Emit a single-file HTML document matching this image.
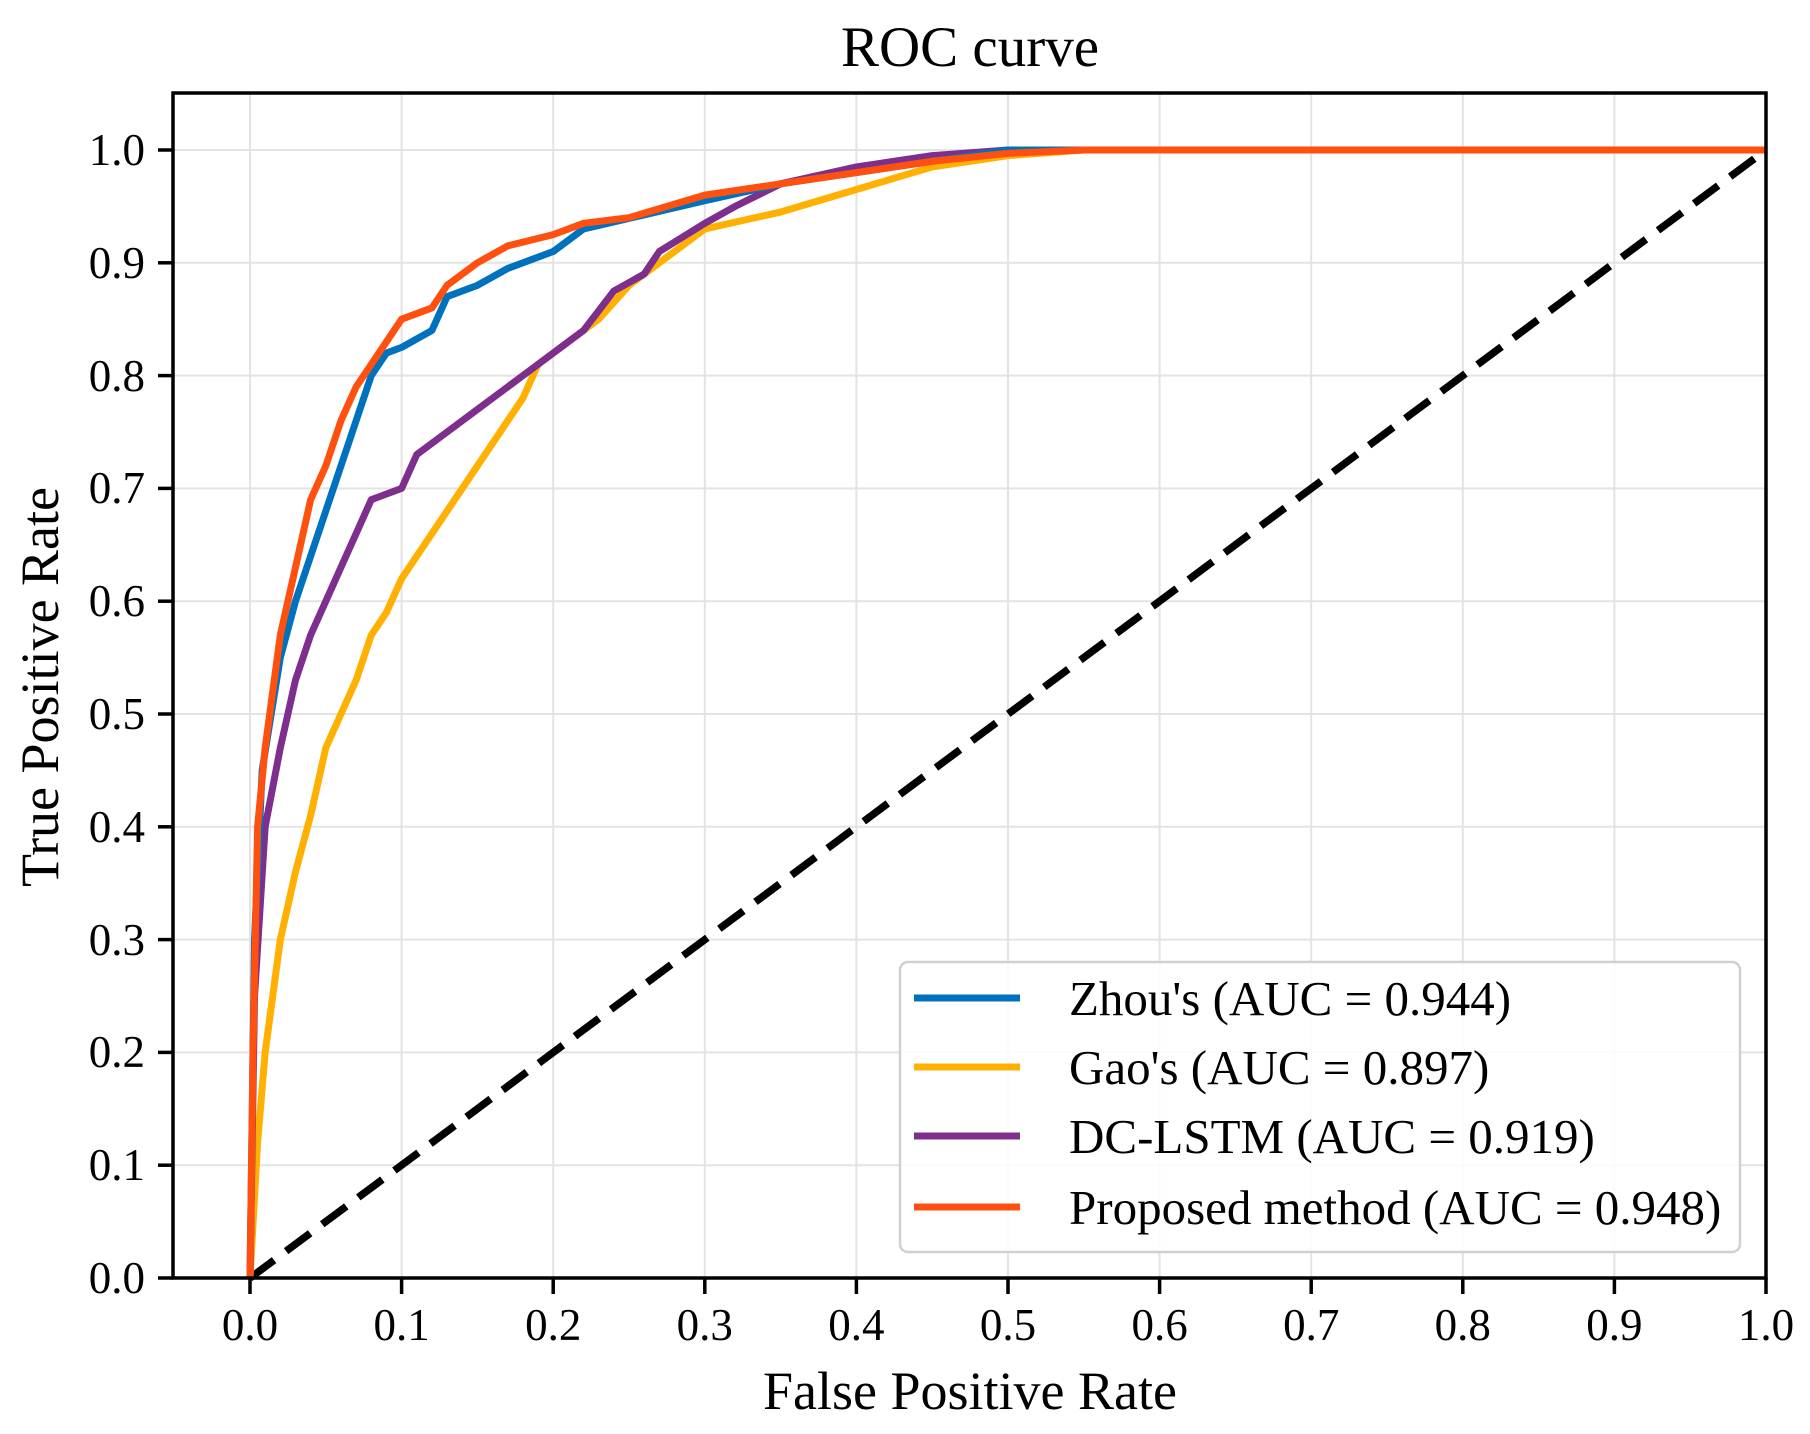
<!DOCTYPE html>
<html><head><style>body{margin:0;background:#fff}svg{display:block}</style></head>
<body>
<svg width="1810" height="1434" xmlns="http://www.w3.org/2000/svg" font-family="Liberation Serif, serif">
<rect width="1810" height="1434" fill="#fff"/>
<g stroke="#e3e3e3" stroke-width="2">
<line x1="250" y1="93" x2="250" y2="1278"/><line x1="401.6" y1="93" x2="401.6" y2="1278"/><line x1="553.2" y1="93" x2="553.2" y2="1278"/><line x1="704.8" y1="93" x2="704.8" y2="1278"/><line x1="856.4" y1="93" x2="856.4" y2="1278"/><line x1="1008" y1="93" x2="1008" y2="1278"/><line x1="1159.6" y1="93" x2="1159.6" y2="1278"/><line x1="1311.2" y1="93" x2="1311.2" y2="1278"/><line x1="1462.8" y1="93" x2="1462.8" y2="1278"/><line x1="1614.4" y1="93" x2="1614.4" y2="1278"/>
<line x1="173" y1="150" x2="1766" y2="150"/><line x1="173" y1="262.8" x2="1766" y2="262.8"/><line x1="173" y1="375.6" x2="1766" y2="375.6"/><line x1="173" y1="488.4" x2="1766" y2="488.4"/><line x1="173" y1="601.2" x2="1766" y2="601.2"/><line x1="173" y1="714" x2="1766" y2="714"/><line x1="173" y1="826.8" x2="1766" y2="826.8"/><line x1="173" y1="939.6" x2="1766" y2="939.6"/><line x1="173" y1="1052.4" x2="1766" y2="1052.4"/><line x1="173" y1="1165.2" x2="1766" y2="1165.2"/>
</g>
<line x1="250" y1="1278" x2="1766" y2="150" stroke="#000" stroke-width="7.5" stroke-dasharray="30,15"/>
<g fill="none" stroke-width="7" stroke-linejoin="round" transform="matrix(1516 0 0 -1128 250 1278)">
<polyline vector-effect="non-scaling-stroke" stroke="#ffb000" points="0,0 0.005,0.12 0.01,0.2 0.02,0.3 0.03,0.36 0.04,0.41 0.05,0.47 0.06,0.5 0.07,0.53 0.08,0.57 0.09,0.59 0.1,0.62 0.12,0.66 0.14,0.7 0.16,0.74 0.18,0.78 0.19,0.81 0.21,0.83 0.23,0.85 0.25,0.88 0.27,0.9 0.3,0.93 0.35,0.945 0.4,0.965 0.45,0.985 0.5,0.995 0.55,1 1,1"/>
<polyline vector-effect="non-scaling-stroke" stroke="#7e2f8e" points="0,0 0.003,0.25 0.01,0.4 0.02,0.47 0.03,0.53 0.04,0.57 0.05,0.6 0.06,0.63 0.07,0.66 0.08,0.69 0.1,0.7 0.11,0.73 0.13,0.75 0.15,0.77 0.17,0.79 0.2,0.82 0.22,0.84 0.24,0.875 0.26,0.89 0.27,0.91 0.3,0.935 0.32,0.95 0.35,0.97 0.4,0.985 0.45,0.995 0.5,1 1,1"/>
<polyline vector-effect="non-scaling-stroke" stroke="#0072bd" points="0,0 0.003,0.3 0.008,0.45 0.02,0.55 0.03,0.6 0.04,0.64 0.05,0.68 0.06,0.72 0.07,0.76 0.08,0.8 0.09,0.82 0.1,0.825 0.12,0.84 0.13,0.87 0.15,0.88 0.17,0.895 0.2,0.91 0.22,0.93 0.3,0.955 0.35,0.97 0.45,0.99 0.5,1 1,1"/>
<polyline vector-effect="non-scaling-stroke" stroke="#ff5010" points="0,0 0.002,0.2 0.005,0.4 0.01,0.47 0.02,0.57 0.03,0.63 0.04,0.69 0.05,0.72 0.06,0.76 0.07,0.79 0.08,0.81 0.09,0.83 0.1,0.85 0.12,0.86 0.13,0.88 0.15,0.9 0.17,0.915 0.2,0.925 0.22,0.935 0.25,0.94 0.3,0.96 0.35,0.97 0.4,0.98 0.45,0.99 0.5,0.997 0.55,1 1,1"/>
</g>
<rect x="173" y="93" width="1593" height="1185" fill="none" stroke="#000" stroke-width="3.5"/>
<g stroke="#000" stroke-width="3.5">
<line x1="250" y1="1278" x2="250" y2="1294"/><line x1="401.6" y1="1278" x2="401.6" y2="1294"/><line x1="553.2" y1="1278" x2="553.2" y2="1294"/><line x1="704.8" y1="1278" x2="704.8" y2="1294"/><line x1="856.4" y1="1278" x2="856.4" y2="1294"/><line x1="1008" y1="1278" x2="1008" y2="1294"/><line x1="1159.6" y1="1278" x2="1159.6" y2="1294"/><line x1="1311.2" y1="1278" x2="1311.2" y2="1294"/><line x1="1462.8" y1="1278" x2="1462.8" y2="1294"/><line x1="1614.4" y1="1278" x2="1614.4" y2="1294"/><line x1="1766" y1="1278" x2="1766" y2="1294"/>
<line x1="158" y1="150" x2="173" y2="150"/><line x1="158" y1="262.8" x2="173" y2="262.8"/><line x1="158" y1="375.6" x2="173" y2="375.6"/><line x1="158" y1="488.4" x2="173" y2="488.4"/><line x1="158" y1="601.2" x2="173" y2="601.2"/><line x1="158" y1="714" x2="173" y2="714"/><line x1="158" y1="826.8" x2="173" y2="826.8"/><line x1="158" y1="939.6" x2="173" y2="939.6"/><line x1="158" y1="1052.4" x2="173" y2="1052.4"/><line x1="158" y1="1165.2" x2="173" y2="1165.2"/><line x1="158" y1="1278" x2="173" y2="1278"/>
</g>
<g font-size="45" text-anchor="middle" fill="#000">
<text x="250" y="1340">0.0</text><text x="401.6" y="1340">0.1</text><text x="553.2" y="1340">0.2</text><text x="704.8" y="1340">0.3</text><text x="856.4" y="1340">0.4</text><text x="1008" y="1340">0.5</text><text x="1159.6" y="1340">0.6</text><text x="1311.2" y="1340">0.7</text><text x="1462.8" y="1340">0.8</text><text x="1614.4" y="1340">0.9</text><text x="1766" y="1340">1.0</text>
</g>
<g font-size="45" text-anchor="end" fill="#000">
<text x="145" y="165">1.0</text><text x="145" y="278">0.9</text><text x="145" y="391">0.8</text><text x="145" y="503">0.7</text><text x="145" y="616">0.6</text><text x="145" y="729">0.5</text><text x="145" y="842">0.4</text><text x="145" y="955">0.3</text><text x="145" y="1067">0.2</text><text x="145" y="1180">0.1</text><text x="145" y="1293">0.0</text>
</g>
<text x="970" y="66" font-size="57" text-anchor="middle">ROC curve</text>
<text x="970" y="1409" font-size="54" text-anchor="middle">False Positive Rate</text>
<text transform="translate(58,687) rotate(-90)" font-size="54" text-anchor="middle">True Positive Rate</text>
<rect x="900" y="962" width="840" height="290" rx="8" fill="#fff" fill-opacity="0.85" stroke="#d0d0d0" stroke-width="2.5"/>
<g stroke-width="7">
<line x1="914" y1="998" x2="1020" y2="998" stroke="#0072bd"/>
<line x1="914" y1="1067" x2="1020" y2="1067" stroke="#ffb000"/>
<line x1="914" y1="1136" x2="1020" y2="1136" stroke="#7e2f8e"/>
<line x1="914" y1="1207" x2="1020" y2="1207" stroke="#ff5010"/>
</g>
<g font-size="49" fill="#000">
<text x="1069" y="1015">Zhou's (AUC = 0.944)</text>
<text x="1069" y="1084">Gao's (AUC = 0.897)</text>
<text x="1069" y="1153">DC-LSTM (AUC = 0.919)</text>
<text x="1069" y="1224">Proposed method (AUC = 0.948)</text>
</g>
</svg>
</body></html>
